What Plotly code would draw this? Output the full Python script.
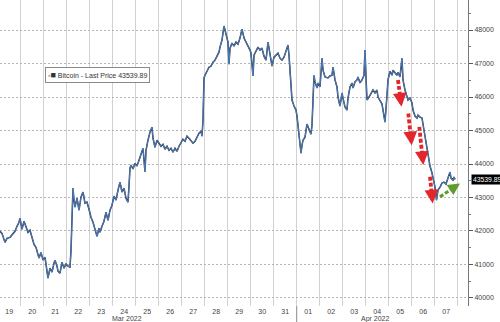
import plotly.graph_objects as go
import pandas as pd

times = [
 "03-19 02:24","03-19 04:29","03-19 07:37","03-19 09:42","03-19 12:50","03-19 15:58","03-19 18:03","03-19 20:08","03-19 22:14","03-19 23:16",
 "03-20 00:19","03-20 01:21","03-20 03:27","03-20 05:32","03-20 07:37","03-20 09:42","03-20 11:47","03-20 13:53","03-20 15:58","03-20 18:03","03-20 19:06","03-20 21:11","03-20 23:16",
 "03-21 01:21","03-21 03:27","03-21 04:29","03-21 06:34","03-21 08:40","03-21 10:45","03-21 11:47","03-21 13:53","03-21 14:55","03-21 17:01","03-21 19:06","03-21 21:11","03-21 23:16",
 "03-22 01:21","03-22 03:27","03-22 04:29","03-22 05:32","03-22 06:34","03-22 07:37","03-22 08:40","03-22 10:45","03-22 12:50","03-22 14:55","03-22 17:01","03-22 19:06","03-22 21:11","03-22 23:16",
 "03-23 01:21","03-23 03:27","03-23 05:32","03-23 07:37","03-23 09:42","03-23 10:45","03-23 12:50","03-23 14:55","03-23 17:01","03-23 19:06","03-23 21:11","03-23 23:16",
 "03-24 01:21","03-24 03:27","03-24 05:32","03-24 07:37","03-24 09:42","03-24 11:47","03-24 13:53","03-24 15:58","03-24 17:01","03-24 18:03","03-24 19:06","03-24 21:11","03-24 23:16",
 "03-25 01:21","03-25 03:27","03-25 05:32","03-25 07:37","03-25 09:42","03-25 10:45","03-25 12:50","03-25 14:55","03-25 17:01","03-25 18:03","03-25 20:08","03-25 22:14",
 "03-26 00:19","03-26 02:24","03-26 04:29","03-26 06:34","03-26 08:40","03-26 10:45","03-26 12:50","03-26 14:55","03-26 17:01","03-26 19:06","03-26 21:11","03-26 23:16",
 "03-27 01:21","03-27 03:27","03-27 05:32","03-27 07:37","03-27 09:42","03-27 11:47","03-27 13:53","03-27 15:58","03-27 18:03","03-27 20:08","03-27 21:11","03-27 22:14","03-27 23:16",
 "03-28 00:19","03-28 02:24","03-28 04:29","03-28 06:34","03-28 08:40","03-28 10:45","03-28 12:50","03-28 14:55","03-28 15:58","03-28 18:03","03-28 20:08","03-28 21:11","03-28 23:16",
 "03-29 00:19","03-29 01:21","03-29 02:24","03-29 04:29","03-29 06:34","03-29 08:40","03-29 10:45","03-29 12:50","03-29 14:55","03-29 17:01","03-29 19:06","03-29 21:11","03-29 23:16",
 "03-30 00:19","03-30 02:24","03-30 03:27","03-30 05:32","03-30 07:37","03-30 09:42","03-30 11:47","03-30 13:53","03-30 15:58","03-30 18:03","03-30 20:08","03-30 22:14",
 "03-31 00:19","03-31 02:24","03-31 04:29","03-31 06:34","03-31 08:40","03-31 10:45","03-31 12:50","03-31 14:55","03-31 15:58","03-31 17:01","03-31 18:03","03-31 19:06","03-31 21:11","03-31 23:16",
 "04-01 00:19","04-01 01:21","04-01 02:24","04-01 03:27","04-01 04:29","04-01 05:32","04-01 06:34","04-01 08:40","04-01 10:45","04-01 12:50","04-01 14:55","04-01 15:58","04-01 17:01","04-01 18:03","04-01 19:06","04-01 21:11","04-01 22:14",
 "04-02 00:19","04-02 02:24","04-02 03:27","04-02 05:32","04-02 08:40","04-02 10:45","04-02 12:50","04-02 13:53","04-02 15:58","04-02 18:03","04-02 19:06","04-02 21:11","04-02 23:16",
 "04-03 00:19","04-03 02:24","04-03 04:29","04-03 05:32","04-03 07:37","04-03 09:42","04-03 10:45","04-03 12:50","04-03 14:55","04-03 15:58","04-03 18:03","04-03 20:08","04-03 22:14","04-03 23:16",
 "04-04 00:19","04-04 01:21","04-04 03:27","04-04 06:34","04-04 07:37","04-04 09:42","04-04 11:47","04-04 12:50","04-04 14:55","04-04 17:01","04-04 18:03","04-04 20:08","04-04 22:14","04-04 23:16",
 "04-05 01:21","04-05 03:27","04-05 04:29","04-05 06:34","04-05 08:40","04-05 09:42","04-05 11:47","04-05 13:53","04-05 14:55","04-05 17:01","04-05 19:06","04-05 20:08","04-05 22:14",
 "04-06 00:19","04-06 01:21","04-06 03:27","04-06 05:32","04-06 06:34","04-06 08:40","04-06 10:45","04-06 11:47","04-06 13:53","04-06 15:58","04-06 17:01","04-06 19:06","04-06 21:11","04-06 22:14",
 "04-07 00:19","04-07 01:53","04-07 02:24","04-07 03:27","04-07 05:32","04-07 07:37","04-07 09:42","04-07 11:47","04-07 13:53","04-07 15:58","04-07 17:01","04-07 19:06","04-07 20:08","04-07 21:11",
]
prices = [
 41990,41930,41660,41780,41810,41930,41990,42140,42260,42380,
 42200,42050,42290,42140,41960,42020,41840,41600,41510,41280,41190,41360,41130,
 41220,40830,40590,40890,40770,41040,41130,40950,40800,40740,41070,40890,41010,
 40950,40920,41420,42140,43280,42920,42710,42980,42620,43010,43160,42830,42860,42650,
 42410,42260,42080,41840,42080,41960,42140,42290,42560,42320,42620,42770,
 43040,42920,43220,43460,43160,43280,42980,42860,43340,43880,43970,43850,44020,
 43940,44110,44260,44470,43760,44410,44710,44950,45100,44770,44500,44710,
 44620,44530,44590,44440,44530,44410,44470,44350,44470,44380,44530,44620,
 44740,44680,44830,44770,44710,44620,44680,44800,44920,44980,44830,45310,46570,
 46650,46800,46890,46920,47040,47100,47250,47340,47490,47700,48120,48000,47760,
 47640,46980,47460,47610,47520,47640,47580,47760,48030,47760,47640,47550,47400,
 47310,46630,47250,47370,47490,47400,47460,47220,47100,47640,47220,46920,
 47190,47250,47310,47160,47100,47190,47340,47550,47250,46800,46270,45910,45730,45610,
 45430,45190,44980,44650,44320,44560,44710,44800,45190,45040,44890,45160,45910,46650,46450,46270,46420,
 46300,47160,46800,46600,46570,46630,46650,46890,46510,46300,46000,45730,46120,
 45970,45700,45610,45970,46300,46420,46270,46450,46510,46600,46420,46510,46650,47400,
 46600,45910,46000,46150,46210,46120,46210,46000,45910,45790,45610,45250,46060,46510,
 46770,46650,46800,46740,46650,46740,46600,47160,46510,46210,46030,45910,45970,
 45820,45610,45430,45370,45460,45400,45370,45190,44830,44470,44230,43940,43730,43580,
 43310,42920,43040,43220,43310,43430,43460,43400,43580,43760,43580,43520,43610,43539.89,
]
last_price = 43539.89

day_ticks = pd.date_range("2022-03-19 12:00", "2022-04-07 12:00", freq="D")
day_labels = [d.strftime("%d") for d in day_ticks]
midnights = pd.date_range("2022-03-20", "2022-04-08", freq="D")
y_ticks = list(range(40000, 48001, 1000))

# arrows: (start time, start price, tip time, tip price)
red_arrows = [
 ("2022-04-05 09:42", 46510, "2022-04-05 13:21", 45710),
 ("2022-04-05 20:27", 45510, "2022-04-06 00:00", 44560),
 ("2022-04-06 07:56", 45110, "2022-04-06 12:06", 43970),
 ("2022-04-06 19:06", 43620, "2022-04-06 21:55", 42820),
]
green_arrow = ("2022-04-07 05:32", 43020, "2022-04-08 02:24", 43420)

x = pd.to_datetime(["2022-" + t for t in times])

fig = go.Figure()
fig.add_trace(go.Scatter(x=x, y=prices, mode="lines",
                         line=dict(color="#1c2740", width=1.5), hoverinfo="skip"))
fig.add_trace(go.Scatter(x=x, y=prices, mode="lines",
                         line=dict(color="#5b92d6", width=0.8)))

def add_arrow(a, color, w, frac, size):
    x0, y0, x1, y1 = a
    t0 = pd.Timestamp(x0); t1 = pd.Timestamp(x1)
    tm = t0 + (t1 - t0) * frac
    ym = y0 + (y1 - y0) * frac
    fig.add_shape(type="line", x0=t0, y0=y0, x1=tm, y1=ym,
                  line=dict(color=color, width=w, dash="4px,2px"), layer="above")
    fig.add_annotation(x=t1, y=y1, ax=tm, ay=ym, axref="x", ayref="y",
                       xref="x", yref="y", text="", showarrow=True,
                       arrowhead=2, arrowsize=size, arrowwidth=w, arrowcolor=color)

for a in red_arrows:
    add_arrow(a, "#e3262b", 3.8, 0.75, 0.72)
add_arrow(green_arrow, "#5f9c2a", 3.2, 0.78, 0.75)

fig.add_shape(type="line", xref="x", yref="paper", x0="2022-04-01", x1="2022-04-01",
              y0=-0.06, y1=0, line=dict(color="#8a8a8a", width=1))

fig.add_annotation(xref="paper", yref="paper", x=0.209, y=0.7547, xanchor="center", yanchor="middle",
                   text="<span style='color:#aaaaaa'>▪</span><span style='font-size:9px'>■</span> Bitcoin - Last Price 43539.89",
                   showarrow=False, font=dict(size=7, color="#333333", family="Liberation Sans"),
                   bgcolor="white", bordercolor="#8a8a8a", borderwidth=1, borderpad=2)

fig.add_annotation(xref="paper", yref="y", x=1, y=last_price, xanchor="left", yanchor="middle",
                   xshift=3, text="43539.89", showarrow=False,
                   font=dict(size=6.8, color="white", family="Liberation Sans"),
                   bgcolor="black", borderpad=1)

for label, px in [("Mar 2022", 0.271), ("Apr 2022", 0.803)]:
    fig.add_annotation(xref="paper", yref="paper", x=px, y=0, yshift=-12.5,
                       xanchor="center", yanchor="middle", text=label, showarrow=False,
                       font=dict(size=7, color="#444444", family="Liberation Sans"))

fig.update_layout(
    width=500, height=322, margin=dict(l=0, r=32, t=0, b=16),
    paper_bgcolor="white", plot_bgcolor="white", showlegend=False,
    font=dict(family="Liberation Sans", size=7, color="#444444"),
    xaxis=dict(type="date", range=["2022-03-19 02:24", "2022-04-08 10:45"],
               tickmode="array", tickvals=day_ticks, ticktext=day_labels,
               showgrid=False, ticks="", zeroline=False, showline=False,
               minor=dict(tickmode="array", tickvals=midnights, showgrid=True,
                          gridcolor="#d2d2d2", gridwidth=1, ticks="")),
    yaxis=dict(side="right", range=[39760, 48897], tickmode="array", tickvals=y_ticks,
               tickformat="d", showgrid=True, gridcolor="#b5b5b5", griddash="2px,2px",
               ticks="outside", ticklen=4, tickcolor="#555555", showline=True,
               linecolor="#777777", linewidth=1, zeroline=False,
               minor=dict(dtick=500, ticks="outside", ticklen=2, tickcolor="#777777", showgrid=False)),
)

fig.write_html("out.html")
